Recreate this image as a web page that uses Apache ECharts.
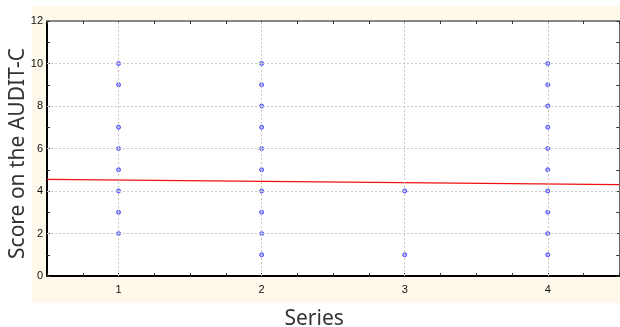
<!DOCTYPE html>
<html><head><meta charset="utf-8">
<script src="https://cdn.jsdelivr.net/npm/echarts@6/dist/echarts.min.js"></script>
<style>html,body{margin:0;padding:0;background:#fff}#c{width:620px;height:327px}</style>
</head><body><div id="c"></div>
<script>
const seriesX = [1, 2, 3, 4];
const scores1 = [10, 9, 7, 6, 5, 4, 3, 2];
const scores2 = [10, 9, 8, 7, 6, 5, 4, 3, 2, 1];
const scores3 = [4, 1];
const scores4 = [10, 9, 8, 7, 6, 5, 4, 3, 2, 1];
const fitLine = [[0.5, 4.55], [4.5, 4.3]];
const yTicks = [0, 2, 4, 6, 8, 10, 12];
const xTicks = [1, 2, 3, 4];

const allScores = [scores1, scores2, scores3, scores4];
const points = [];
allScores.forEach((arr, i) => arr.forEach(v => points.push([seriesX[i], v])));

const chart = echarts.init(document.getElementById('c'), null, {renderer: 'canvas'});
const tickFont = {fontFamily: 'Liberation Sans, Arial, sans-serif', fontSize: 11, color: '#111'};
chart.setOption({
  animation: false,
  backgroundColor: '#fff',
  graphic: [{type: 'rect', z: -10, shape: {x: 32, y: 6, width: 588, height: 297}, style: {fill: '#fff9ec'}}],
  grid: {left: 47, top: 21, right: 0.7, bottom: 51, containLabel: false, outerBoundsMode: 'none',
         show: true, backgroundColor: '#fff', borderWidth: 0},
  xAxis: [{
    type: 'value', min: 0.5, max: 4.5, interval: 0.25,
    name: 'Series', nameLocation: 'middle', nameGap: 33, nameMoveOverlap: false,
    nameTextStyle: {fontFamily: 'Noto Sans, sans-serif', fontSize: 21, color: '#333', padding: [0, 38, 0, 0]},
    axisLine: {show: true, onZero: false, lineStyle: {color: '#000', width: 2}},
    axisTick: {show: true, inside: true, length: 3, lineStyle: {color: '#333'}},
    axisLabel: Object.assign({margin: 8, formatter: v => xTicks.includes(v) ? String(v) : ''}, tickFont),
    splitLine: {show: false}
  }, {
    type: 'value', position: 'top', min: 0.5, max: 4.5, interval: 0.25,
    axisLine: {show: true, onZero: false, lineStyle: {color: '#888', width: 2}},
    axisTick: {show: true, inside: true, length: 3, lineStyle: {color: '#333'}},
    axisLabel: {show: false}, splitLine: {show: false}
  }],
  yAxis: [{
    type: 'value', min: 0, max: 12, interval: 1,
    name: 'Score on the AUDIT-C', nameLocation: 'middle', nameGap: 18, nameMoveOverlap: false,
    nameTextStyle: {fontFamily: 'Noto Sans, sans-serif', fontSize: 21, color: '#333', padding: [0, 10, 0, 0]},
    axisLine: {show: true, onZero: false, lineStyle: {color: '#000', width: 2}},
    axisTick: {show: true, inside: true, length: 3, lineStyle: {color: '#333'}},
    axisLabel: Object.assign({margin: 4, formatter: v => yTicks.includes(v) ? String(v) : ''}, tickFont),
    splitLine: {show: false}
  }, {
    type: 'value', position: 'right', min: 0, max: 12, interval: 1,
    axisLine: {show: true, onZero: false, lineStyle: {color: '#666', width: 2}},
    axisTick: {show: true, inside: true, length: 3, lineStyle: {color: '#333'}},
    axisLabel: {show: false}, splitLine: {show: false}
  }],
  series: [{
    type: 'line', data: [], xAxisIndex: 0, yAxisIndex: 0, silent: true,
    markLine: {
      silent: true, symbol: 'none', label: {show: false},
      lineStyle: {color: '#c8c8c8', type: [2, 2], width: 1},
      data: xTicks.map(v => ({xAxis: v})).concat(yTicks.filter(v => v > 0 && v < 12).map(v => ({yAxis: v})))
    }
  }, {
    type: 'line', data: fitLine, showSymbol: false, symbol: 'none',
    lineStyle: {color: '#ee1111', width: 1.3}, z: 3
  }, {
    type: 'scatter', data: points, symbol: 'circle', symbolSize: 4,
    itemStyle: {color: '#9a9aff', borderColor: '#2a2aff', borderWidth: 1}, z: 4
  }]
});
</script></body></html>
